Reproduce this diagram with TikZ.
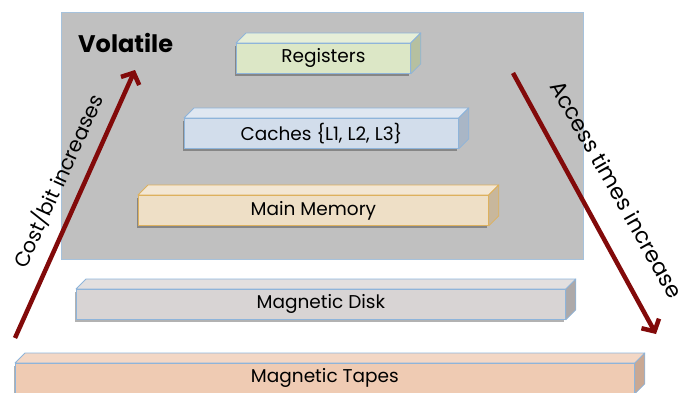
\documentclass[tikz,border=0pt]{standalone}
\usepackage{fontspec}
\setmainfont{Poppins}
\usetikzlibrary{arrows.meta}
\definecolor{volgray}{HTML}{C0C0C0}
\definecolor{volborder}{HTML}{A6C2DC}
\definecolor{slabborder}{HTML}{8EB4DA}
\definecolor{arrowred}{HTML}{820A0A}
\definecolor{regF}{HTML}{DCE7C6}\definecolor{regT}{HTML}{E6EED8}\definecolor{regS}{HTML}{B6C0A0}
\definecolor{cacF}{HTML}{D2DDEB}\definecolor{cacT}{HTML}{DFE7F1}\definecolor{cacS}{HTML}{A9B6C6}
\definecolor{memF}{HTML}{EEDFC6}\definecolor{memT}{HTML}{F3E7D4}\definecolor{memS}{HTML}{C8B79C}\definecolor{memB}{HTML}{DDB15E}
\definecolor{dskF}{HTML}{D8D4D4}\definecolor{dskT}{HTML}{E2DFDF}\definecolor{dskS}{HTML}{ADA9A9}
\definecolor{tapF}{HTML}{EFCBB3}\definecolor{tapT}{HTML}{F3D7C5}\definecolor{tapS}{HTML}{C9A893}
\tikzset{
  slab/.style={draw=slabborder, line width=0.8pt, minimum height=30pt, inner sep=0pt,
    anchor=north west, font=\fontsize{18.5}{21}\selectfont},
  bigarrow/.style={draw=arrowred, line width=4.5pt, -{Straight Barb[length=9pt,width=20pt,line width=4.5pt]}},
  sidelabel/.style={inner sep=0pt},
}
% #1 name, #2 front color, #3 top, #4 side, #5 border
\newcommand{\slabfaces}[5]{%
  \fill[black, opacity=0.3] ([xshift=-1.5pt,yshift=-2.5pt]#1.north west) rectangle ([xshift=-1.5pt,yshift=-2.5pt]#1.south east);
  \filldraw[fill=#3, draw=#5, line width=0.8pt, line join=round] (#1.north west) -- ++(10,-10) -- ([shift={(10,-10)}]#1.north east) -- (#1.north east) -- cycle;
  \filldraw[fill=#4, draw=#5, line width=0.8pt, line join=round] (#1.north east) -- ++(10,-10) -- ([shift={(10,-10)}]#1.south east) -- (#1.south east) -- cycle;
}
\begin{document}
\begin{tikzpicture}[x=1pt,y=-1pt]
\useasboundingbox (0,0) rectangle (685,392);
\node[draw=volborder, fill=volgray, line width=0.8pt, minimum width=522pt, minimum height=247pt, inner sep=0pt, anchor=north west] (vol) at (61,12) {};
\node[anchor=base west, font=\fontsize{24}{28}\bfseries\selectfont, inner sep=0pt] (voltxt) at (78,52) {Volatile};

\node[slab, fill=regF, minimum width=174pt] (reg) at (236,43) {};
\slabfaces{reg}{regF}{regT}{regS}{slabborder}
\node[slab, fill=regF, minimum width=174pt] (reg) at (236,43) {Registers};

\node[slab, fill=cacF, minimum width=274pt] (cac) at (184,118) {};
\slabfaces{cac}{cacF}{cacT}{cacS}{slabborder}
\node[slab, fill=cacF, minimum width=274pt] (cac) at (184,118) {Caches \{L1, L2, L3\}};

\node[slab, draw=memB, fill=memF, minimum width=350pt] (mem) at (138,195) {};
\slabfaces{mem}{memF}{memT}{memS}{memB}
\node[slab, draw=memB, fill=memF, minimum width=350pt] (mem) at (138,195) {Main Memory};

\node[slab, fill=dskF, minimum width=489pt] (dsk) at (76,289) {};
\slabfaces{dsk}{dskF}{dskT}{dskS}{slabborder}
\node[slab, fill=dskF, minimum width=489pt] (dsk) at (76,289) {Magnetic Disk};

\node[slab, fill=tapF, minimum width=619pt] (tap) at (15,363) {};
\slabfaces{tap}{tapF}{tapT}{tapS}{slabborder}
\node[slab, fill=tapF, minimum width=619pt] (tap) at (15,363) {Magnetic Tapes};

\coordinate (costA) at (15,338);
\coordinate (costB) at (135,70);
\coordinate (accA) at (513,73);
\coordinate (accB) at (656,334);
\draw[bigarrow] (costA) -- (costB);
\draw[bigarrow] (accA) -- (accB);
\node[sidelabel, rotate=65.5, font=\fontsize{20.5}{24}\selectfont] (costtxt) at (58,181) {Cost/bit increases};
\node[sidelabel, rotate=-60.5, font=\fontsize{22}{25}\selectfont] (acctxt) at (617,189) {Access times increase};
\end{tikzpicture}
\end{document}
